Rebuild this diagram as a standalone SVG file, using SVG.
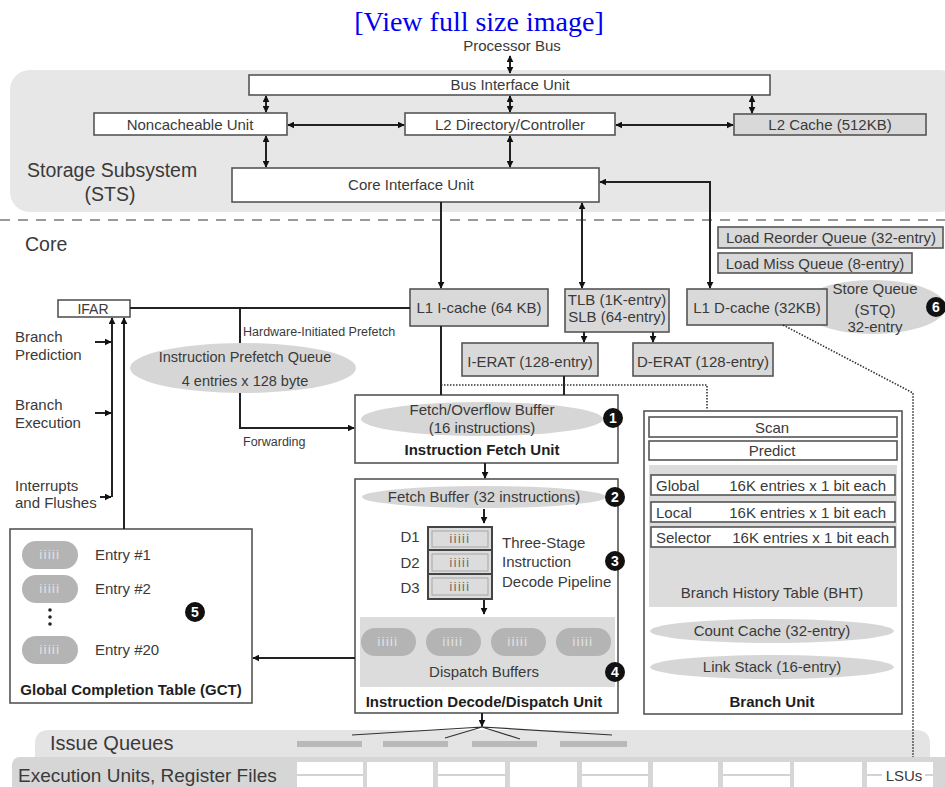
<svg xmlns="http://www.w3.org/2000/svg" width="945" height="787" viewBox="0 0 945 787">
  <defs>
    <style>
      .t{font-family:"Liberation Sans",Arial,sans-serif;font-size:15px;fill:#3a3a3a}
      .s{font-size:12.5px}
      .l{font-size:19.5px}
      .b{font-weight:bold;fill:#1e1e1e;font-size:15px}
      .m{text-anchor:middle}
      .e{text-anchor:end}
      .box{fill:#fff;stroke:#555;stroke-width:1.6}
      .gbox{fill:#d9d9d9;stroke:#555;stroke-width:1.6}
      .ell{fill:#d6d6d6}
      .pill{fill:#b4b4b4}
      .ii{font-family:"Liberation Sans",Arial,sans-serif;font-size:12px;fill:#666;text-anchor:middle;letter-spacing:1.5px}
      .iw{fill:#e6e6e6}
      .ln{fill:none;stroke:#222;stroke-width:2}
      .thin{fill:none;stroke:#333;stroke-width:1.2}
      .dot{fill:none;stroke:#333;stroke-width:1.6;stroke-dasharray:1.5 1.5}
      .badge{fill:#111}
      .bn{font-family:"Liberation Sans",Arial,sans-serif;font-size:14px;font-weight:bold;fill:#fff;text-anchor:middle}
    </style>
    <marker id="ah" viewBox="0 0 10 10" refX="9" refY="5" markerWidth="7" markerHeight="7" markerUnits="userSpaceOnUse" orient="auto-start-reverse">
      <path d="M0,0 L10,5 L0,10 z" fill="#111"/>
    </marker>
  </defs>

  <rect width="945" height="787" fill="#fff"/>

  <!-- link header -->
  <text x="479" y="31" font-family="'Liberation Serif',serif" font-size="28" fill="#0000ee" text-anchor="middle">[View full size image]</text>

  <!-- storage subsystem panel -->
  <g id="sts-panel">
    <rect x="10" y="70" width="950" height="142" rx="20" fill="#e7e7e7"/>
    <text class="t l" x="27" y="177">Storage Subsystem</text>
    <text class="t l m" x="110" y="201">(STS)</text>
  </g>

  <!-- core boundary -->
  <line x1="0" y1="220" x2="945" y2="220" stroke="#9a9a9a" stroke-width="2" stroke-dasharray="10 8"/>
  <text class="t" x="25" y="251" style="font-size:19.5px">Core</text>

  <text class="t m" x="512" y="51" style="font-size:15px">Processor Bus</text>

  <g id="bus-interface-unit">
    <rect class="box" x="249" y="75" width="521" height="20"/>
    <text class="t m" x="510" y="90">Bus Interface Unit</text>
  </g>
  <g id="noncacheable-unit">
    <rect class="box" x="94" y="113" width="193" height="22"/>
    <text class="t m" x="190" y="129.5">Noncacheable Unit</text>
  </g>
  <g id="l2-directory">
    <rect class="box" x="405" y="113" width="210" height="22"/>
    <text class="t m" x="510" y="129.5">L2 Directory/Controller</text>
  </g>
  <g id="l2-cache">
    <rect class="gbox" x="734" y="114" width="192" height="21"/>
    <text class="t m" x="830" y="130">L2 Cache (512KB)</text>
  </g>
  <g id="core-interface-unit">
    <rect class="box" x="232" y="168" width="367" height="34"/>
    <text class="t m" x="411" y="190">Core Interface Unit</text>
  </g>

  <g id="ifar">
    <rect class="box" x="58" y="300" width="72" height="17" stroke-width="2"/>
    <text class="t m" x="93" y="313.5" style="font-size:14px">IFAR</text>
  </g>
  <g id="branch-inputs">
    <text class="t" x="15" y="342">Branch</text>
    <text class="t" x="15" y="360">Prediction</text>
    <text class="t" x="15" y="410">Branch</text>
    <text class="t" x="15" y="428">Execution</text>
    <text class="t" x="15" y="491">Interrupts</text>
    <text class="t" x="15" y="508">and Flushes</text>
  </g>

  <g id="l1-icache">
    <rect class="gbox" x="410" y="289" width="138" height="37"/>
    <text class="t m" x="479" y="312.5">L1 I-cache (64 KB)</text>
  </g>
  <g id="tlb-slb">
    <rect class="gbox" x="565" y="289" width="104" height="43"/>
    <text class="t m" x="617" y="305">TLB (1K-entry)</text>
    <text class="t m" x="617" y="322">SLB (64-entry)</text>
  </g>
  <g id="store-queue">
    <ellipse class="ell" cx="873" cy="307" rx="73" ry="27"/>
    <text class="t m" x="875" y="294">Store Queue</text>
    <text class="t m" x="875" y="315">(STQ)</text>
    <text class="t m" x="875" y="332">32-entry</text>
    <circle class="badge" cx="936" cy="307" r="10"/>
    <text class="bn" x="936" y="312">6</text>
  </g>
  <g id="l1-dcache">
    <rect class="gbox" x="687" y="289" width="140" height="36"/>
    <text class="t m" x="757" y="312.5">L1 D-cache (32KB)</text>
  </g>
  <g id="load-reorder-queue">
    <rect class="gbox" x="718" y="227" width="225" height="21"/>
    <text class="t m" x="831" y="243">Load Reorder Queue (32-entry)</text>
  </g>
  <g id="load-miss-queue">
    <rect class="gbox" x="718" y="253" width="194" height="20"/>
    <text class="t m" x="815" y="268.5">Load Miss Queue (8-entry)</text>
  </g>
  <g id="i-erat">
    <rect class="gbox" x="462" y="343" width="136" height="33"/>
    <text class="t m" x="530" y="367">I-ERAT (128-entry)</text>
  </g>
  <g id="d-erat">
    <rect class="gbox" x="633" y="343" width="140" height="33"/>
    <text class="t m" x="703" y="367">D-ERAT (128-entry)</text>
  </g>

  <g id="prefetch-queue">
    <ellipse class="ell" cx="243" cy="368" rx="113" ry="25"/>
    <text class="t m" x="245" y="362" style="font-size:14.5px">Instruction Prefetch Queue</text>
    <text class="t m" x="245" y="386" style="font-size:14.5px">4 entries x 128 byte</text>
  </g>
  <text class="t s" x="243" y="336">Hardware-Initiated Prefetch</text>
  <text class="t s" x="243" y="446">Forwarding</text>

  <g id="instruction-fetch-unit">
    <rect class="box" x="355" y="395" width="263" height="68"/>
    <ellipse class="ell" cx="482" cy="419" rx="121" ry="17"/>
    <text class="t m" x="482" y="415">Fetch/Overflow Buffer</text>
    <text class="t m" x="482" y="433">(16 instructions)</text>
    <text class="t b m" x="482" y="455">Instruction Fetch Unit</text>
    <circle class="badge" cx="613" cy="418" r="10"/>
    <text class="bn" x="613" y="423">1</text>
  </g>

  <g id="decode-dispatch-unit">
    <rect class="box" x="355" y="479" width="263" height="234"/>
    <ellipse class="ell" cx="484" cy="497" rx="122" ry="11"/>
    <text class="t m" x="484" y="502">Fetch Buffer (32 instructions)</text>
    <circle class="badge" cx="615" cy="497" r="10"/>
    <text class="bn" x="615" y="502">2</text>
    <path class="ln" d="M484,509 V523" stroke-width="1.6" marker-end="url(#ah)"/>
    <rect x="428" y="527" width="64" height="72" fill="#dcdcdc" stroke="#444" stroke-width="2"/>
    <line x1="428" y1="550" x2="492" y2="550" stroke="#444" stroke-width="2"/>
    <line x1="428" y1="574" x2="492" y2="574" stroke="#444" stroke-width="2"/>
    <rect x="432" y="531" width="56" height="16" fill="none" stroke="#999" stroke-width="0.8"/>
    <rect x="432" y="554" width="56" height="17" fill="none" stroke="#999" stroke-width="0.8"/>
    <rect x="432" y="578" width="56" height="17" fill="none" stroke="#999" stroke-width="0.8"/>
    <text class="ii" x="460" y="543">iiiii</text>
    <text class="ii" x="460" y="567">iiiii</text>
    <text class="ii" x="460" y="591">iiiii</text>
    <text class="t m" x="410" y="542">D1</text>
    <text class="t m" x="410" y="568">D2</text>
    <text class="t m" x="410" y="593">D3</text>
    <text class="t" x="502" y="548">Three-Stage</text>
    <text class="t" x="502" y="567">Instruction</text>
    <text class="t" x="502" y="587">Decode Pipeline</text>
    <circle class="badge" cx="615" cy="561" r="10"/>
    <text class="bn" x="615" y="566">3</text>
    <path class="ln" d="M484,600 V614" stroke-width="1.6" marker-end="url(#ah)"/>
    <rect x="360" y="617" width="255" height="70" fill="#dcdcdc"/>
    <rect class="pill" x="361" y="628" width="55" height="28" rx="14"/>
    <rect class="pill" x="426" y="628" width="55" height="28" rx="14"/>
    <rect class="pill" x="491" y="628" width="55" height="28" rx="14"/>
    <rect class="pill" x="556" y="628" width="55" height="28" rx="14"/>
    <text class="ii iw" x="388" y="646">iiiii</text>
    <text class="ii iw" x="453" y="646">iiiii</text>
    <text class="ii iw" x="518" y="646">iiiii</text>
    <text class="ii iw" x="583" y="646">iiiii</text>
    <text class="t m" x="484" y="677">Dispatch Buffers</text>
    <circle class="badge" cx="615" cy="672" r="10"/>
    <text class="bn" x="615" y="677">4</text>
    <text class="t b m" x="484" y="707">Instruction Decode/Dispatch Unit</text>
  </g>

  <g id="global-completion-table">
    <rect class="box" x="10" y="529" width="242" height="174"/>
    <rect class="pill" x="22" y="541" width="56" height="28" rx="14"/>
    <rect class="pill" x="22" y="575" width="56" height="28" rx="14"/>
    <rect class="pill" x="22" y="636" width="56" height="28" rx="14"/>
    <text class="ii iw" x="50" y="559">iiiii</text>
    <text class="ii iw" x="50" y="593">iiiii</text>
    <text class="ii iw" x="50" y="654">iiiii</text>
    <text class="t" x="95" y="560">Entry #1</text>
    <text class="t" x="95" y="594">Entry #2</text>
    <text class="t" x="95" y="655">Entry #20</text>
    <circle cx="50" cy="610" r="1.8" fill="#222"/>
    <circle cx="50" cy="617" r="1.8" fill="#222"/>
    <circle cx="50" cy="624" r="1.8" fill="#222"/>
    <circle class="badge" cx="195" cy="612" r="10"/>
    <text class="bn" x="195" y="617">5</text>
    <text class="t b m" x="131" y="695">Global Completion Table (GCT)</text>
  </g>

  <g id="branch-unit">
    <rect class="box" x="644" y="411" width="258" height="303"/>
    <rect class="box" x="649" y="417" width="248" height="20"/>
    <text class="t m" x="772" y="432.5">Scan</text>
    <rect class="box" x="649" y="441" width="248" height="19"/>
    <text class="t m" x="772" y="456">Predict</text>
    <rect x="649" y="465" width="248" height="142" fill="#dcdcdc"/>
    <rect class="box" x="651" y="475" width="244" height="20"/>
    <rect class="box" x="651" y="502" width="244" height="20"/>
    <rect class="box" x="651" y="527" width="244" height="20"/>
    <text class="t" x="656" y="490.5">Global</text>
    <text class="t e" x="886" y="490.5">16K entries x 1 bit each</text>
    <text class="t" x="656" y="517.5">Local</text>
    <text class="t e" x="886" y="517.5">16K entries x 1 bit each</text>
    <text class="t" x="656" y="542.5">Selector</text>
    <text class="t e" x="889" y="542.5">16K entries x 1 bit each</text>
    <text class="t m" x="772" y="598">Branch History Table (BHT)</text>
    <ellipse class="ell" cx="772" cy="631" rx="122" ry="12"/>
    <text class="t m" x="772" y="636">Count Cache (32-entry)</text>
    <ellipse class="ell" cx="772" cy="667" rx="122" ry="12"/>
    <text class="t m" x="772" y="672">Link Stack (16-entry)</text>
    <text class="t b m" x="772" y="707">Branch Unit</text>
  </g>

  <!-- issue queues and execution units -->
  <g id="issue-queues">
    <path d="M35,760 V744 Q35,730 49,730 H916 Q930,730 930,744 V760 Z" fill="#e4e4e4"/>
    <text class="t" x="50" y="750" style="font-size:20px">Issue Queues</text>
    <rect x="297" y="741" width="65" height="6" fill="#b9b9b9"/>
    <rect x="383" y="741" width="65" height="6" fill="#b9b9b9"/>
    <rect x="472" y="741" width="65" height="6" fill="#b9b9b9"/>
    <rect x="560" y="741" width="67" height="6" fill="#b9b9b9"/>
  </g>
  <g id="execution-units">
    <rect x="12" y="757" width="940" height="40" rx="8" fill="#d6d6d6"/>
    <text class="t" x="18" y="782" style="font-size:19px">Execution Units, Register Files</text>
    <g fill="#fff">
      <rect x="297" y="762" width="66" height="25"/>
      <rect x="367" y="762" width="66" height="25"/>
      <rect x="438" y="762" width="67" height="25"/>
      <rect x="510" y="762" width="67" height="25"/>
      <rect x="582" y="762" width="66" height="25"/>
      <rect x="653" y="762" width="65" height="25"/>
      <rect x="723" y="762" width="67" height="25"/>
      <rect x="794" y="762" width="68" height="25"/>
      <rect x="867" y="762" width="66" height="25"/>
    </g>
    <g stroke="#d3d3d3" stroke-width="2">
      <line x1="297" y1="775" x2="363" y2="775"/>
      <line x1="438" y1="775" x2="505" y2="775"/>
      <line x1="582" y1="775" x2="648" y2="775"/>
      <line x1="723" y1="775" x2="790" y2="775"/>
      <line x1="867" y1="775" x2="882" y2="775"/>
      <line x1="925" y1="775" x2="933" y2="775"/>
    </g>
    <text class="t m" x="904" y="781" style="font-size:15px">LSUs</text>
  </g>

  <!-- connectors -->
  <g id="connectors">
    <path class="ln" d="M510,56 V73" marker-start="url(#ah)" marker-end="url(#ah)"/>
    <path class="ln" d="M266,96 V112" marker-start="url(#ah)" marker-end="url(#ah)"/>
    <path class="ln" d="M510,96 V112" marker-start="url(#ah)" marker-end="url(#ah)"/>
    <path class="ln" d="M752,96 V113" marker-start="url(#ah)" marker-end="url(#ah)"/>
    <path class="ln" d="M288,125 H404" marker-start="url(#ah)" marker-end="url(#ah)"/>
    <path class="ln" d="M616,125 H733" marker-start="url(#ah)" marker-end="url(#ah)"/>
    <path class="ln" d="M266,136 V167" marker-start="url(#ah)" marker-end="url(#ah)"/>
    <path class="ln" d="M510,136 V167" marker-start="url(#ah)" marker-end="url(#ah)"/>
    <path class="ln" d="M441,202 V288" marker-end="url(#ah)"/>
    <path class="ln" d="M582,203 V288" marker-start="url(#ah)" marker-end="url(#ah)"/>
    <path class="ln" d="M710,288 V182 H600" marker-start="url(#ah)" marker-end="url(#ah)"/>
    <path class="ln" d="M584,332 V342" stroke-width="1.6" marker-end="url(#ah)"/>
    <path class="ln" d="M653,332 V342" stroke-width="1.6" marker-end="url(#ah)"/>
    <path class="ln" d="M130,308 H410"/>
    <path class="ln" d="M240,308 V343"/>
    <path class="ln" d="M240,393 V428 H354" marker-end="url(#ah)"/>
    <path class="ln" d="M441,326 V395"/>
    <path class="ln" d="M564,376 V395"/>
    <path class="dot" d="M441,385 H707 V410"/>
    <path class="dot" d="M783,325 L913,393 V757"/>
    <path class="ln" d="M112,497 V318" marker-end="url(#ah)"/>
    <path class="ln" d="M124,529 V318" marker-end="url(#ah)"/>
    <path class="ln" d="M95,342 H111" stroke-width="1.6" marker-end="url(#ah)"/>
    <path class="ln" d="M95,413 H111" stroke-width="1.6" marker-end="url(#ah)"/>
    <path class="ln" d="M100,497 H111" stroke-width="1.6" marker-end="url(#ah)"/>
    <path class="ln" d="M485,463 V478" stroke-width="1.6" marker-end="url(#ah)"/>
    <path class="ln" d="M355,658 H253" marker-end="url(#ah)"/>
    <path class="ln" d="M482,713 V726" stroke-width="1.6" marker-end="url(#ah)"/>
    <path class="thin" d="M482,727 L352,735 M482,727 L445,738 M482,727 L520,739 M482,727 L612,735"/>
  </g>
</svg>
